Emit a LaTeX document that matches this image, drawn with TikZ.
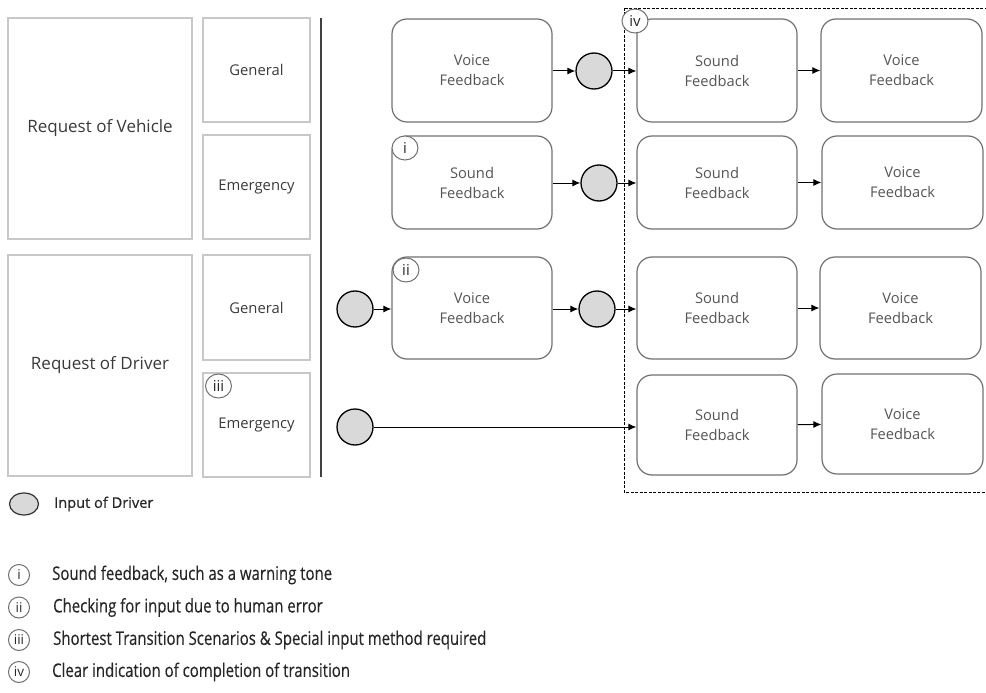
\documentclass[tikz,border=0pt]{standalone}
\usepackage{fontspec}
\setmainfont{Open Sans}
\newfontfamily\condfont[FakeStretch=0.8,FakeBold=0.3]{Open Sans}
\newfontfamily\semifont{Open Sans}[FakeBold=0.6]
\usetikzlibrary{arrows.meta,shapes.geometric}
\definecolor{boxgray}{HTML}{C8C8C8}
\definecolor{rgray}{HTML}{707070}
\definecolor{txtgray}{HTML}{555555}
\definecolor{lefttxt}{HTML}{3A3A3A}
\definecolor{circfill}{HTML}{D9D9D9}
\begin{document}
\begin{tikzpicture}[x=1pt,y=-1pt,
  catbox/.style={draw=boxgray,line width=1.6pt,rectangle,inner sep=0pt,text=lefttxt,font=\fontsize{14.8}{17}\selectfont},
  bigbox/.style={catbox,font=\fontsize{17}{20}\selectfont},
  fbbox/.style={draw=rgray,line width=1.2pt,rounded corners=15pt,rectangle,minimum width=160pt,inner sep=0pt,text=txtgray,align=center,font=\fontsize{14.7}{20}\selectfont},
  inp/.style={circle,draw=black,line width=1.3pt,fill=circfill,minimum size=36pt,inner sep=0pt},
  tag/.style={ellipse,draw=rgray,line width=1pt,fill=white,minimum width=26pt,minimum height=24pt,inner sep=0pt,text=black!85,font=\fontsize{15}{15}\selectfont},
  ltag/.style={ellipse,draw=rgray,line width=1pt,minimum width=21pt,minimum height=21pt,inner sep=0pt,text=black!85,font=\fontsize{13.5}{13.5}\selectfont},
  arr/.style={-{Latex[length=8pt,width=7pt]},line width=1pt,black},
  ltxt/.style={anchor=west,inner sep=0pt,text=black!85,font=\condfont\fontsize{18.7}{18.7}\selectfont}
]
\useasboundingbox (0,0) rectangle (986,693);
% left category boxes
\node[bigbox,minimum width=184pt,minimum height=221pt] (rv) at (100,128.5) {Request of Vehicle};
\node[catbox,minimum width=107pt,minimum height=104pt] (g1) at (256.5,70) {General};
\node[catbox,minimum width=107pt,minimum height=104pt] (e1) at (256.5,187) {Emergency};
\node[bigbox,minimum width=184pt,minimum height=221pt] (rd) at (100,365.5) {Request of Driver};
\node[catbox,minimum width=107pt,minimum height=105pt] (g2) at (256.5,307.5) {General};
\node[catbox,minimum width=107pt,minimum height=104pt] (e2) at (256.5,425) {Emergency};
\coordinate (vt) at (321,18);
\coordinate (vb) at (321,477);
\draw[line width=1.2pt,black!75] (vt) -- (vb);

% dashed frame
\coordinate (fa) at (624,8);
\coordinate (fb) at (990,492);
\draw[line width=0.9pt,black,dash pattern=on 3pt off 1.5pt] (fa) rectangle (fb);

% row 1
\node[fbbox,minimum height=103pt] (a1) at (472,70.5) {Voice\\Feedback};
\node[inp] (c1) at (594,71) {};
\node[fbbox,minimum height=103pt] (s1) at (717,70.5) {Sound\\Feedback};
\node[fbbox,minimum width=161pt,minimum height=103pt] (v1) at (901.5,70.5) {Voice\\Feedback};
% row 2
\node[fbbox,minimum height=93pt] (a2) at (472,182.5) {Sound\\Feedback};
\node[inp] (c2) at (599,183) {};
\node[fbbox,minimum height=93pt] (s2) at (717,182.5) {Sound\\Feedback};
\node[fbbox,minimum width=161pt,minimum height=93pt] (v2) at (902.5,182.5) {Voice\\Feedback};
% row 3
\node[inp] (d3) at (355,309) {};
\node[fbbox,minimum height=102pt] (a3) at (472,308) {Voice\\Feedback};
\node[inp] (c3) at (597,309) {};
\node[fbbox,minimum height=102pt] (s3) at (717,308) {Sound\\Feedback};
\node[fbbox,minimum width=161pt,minimum height=102pt] (v3) at (900.5,308) {Voice\\Feedback};
% row 4
\node[inp] (d4) at (355,427) {};
\node[fbbox,minimum height=100pt] (s4) at (717,425) {Sound\\Feedback};
\node[fbbox,minimum width=161pt,minimum height=100pt] (v4) at (902.5,424) {Voice\\Feedback};

% tags
\node[tag] (tiv) at (635,21) {iv};
\node[tag] (ti) at (405,148) {i};
\node[tag] (tii) at (406,270) {ii};
\node[tag] (tiii) at (218.5,386) {iii};

% arrows
\draw[arr] (a1.east |- c1) -- (c1);
\draw[arr] (c1) -- (s1.west |- c1);
\draw[arr] (s1) -- (v1);
\draw[arr] (a2.east |- c2) -- (c2);
\draw[arr] (c2) -- (s2.west |- c2);
\draw[arr] (s2) -- (v2);
\draw[arr] (d3) -- (a3.west |- d3);
\draw[arr] (a3.east |- c3) -- (c3);
\draw[arr] (c3) -- (s3.west |- c3);
\draw[arr] (s3) -- (v3);
\draw[arr] (d4) -- (s4.west |- d4);
\draw[arr] (s4) -- (v4);

% legend
\node[ellipse,draw=black!80,line width=1.2pt,fill=circfill,minimum width=29pt,minimum height=22pt,inner sep=0pt] (lg) at (24,504) {};
\node[anchor=west,inner sep=0pt,font=\semifont\fontsize{14.6}{14.6}\selectfont,text=black!85] (lgt) at (54,504) {Input of Driver};
\node[ltag] (l1) at (19,575) {i};
\node[ltxt] (l1t) at (52,575) {Sound feedback, such as a warning tone};
\node[ltag] (l2) at (19,607.5) {ii};
\node[ltxt] (l2t) at (53,607.5) {Checking for input due to human error};
\node[ltag] (l3) at (19,640) {iii};
\node[ltxt] (l3t) at (53,640) {Shortest Transition Scenarios \& Special input method required};
\node[ltag] (l4) at (19,672) {iv};
\node[ltxt] (l4t) at (52,672) {Clear indication of completion of transition};
\end{tikzpicture}
\end{document}
